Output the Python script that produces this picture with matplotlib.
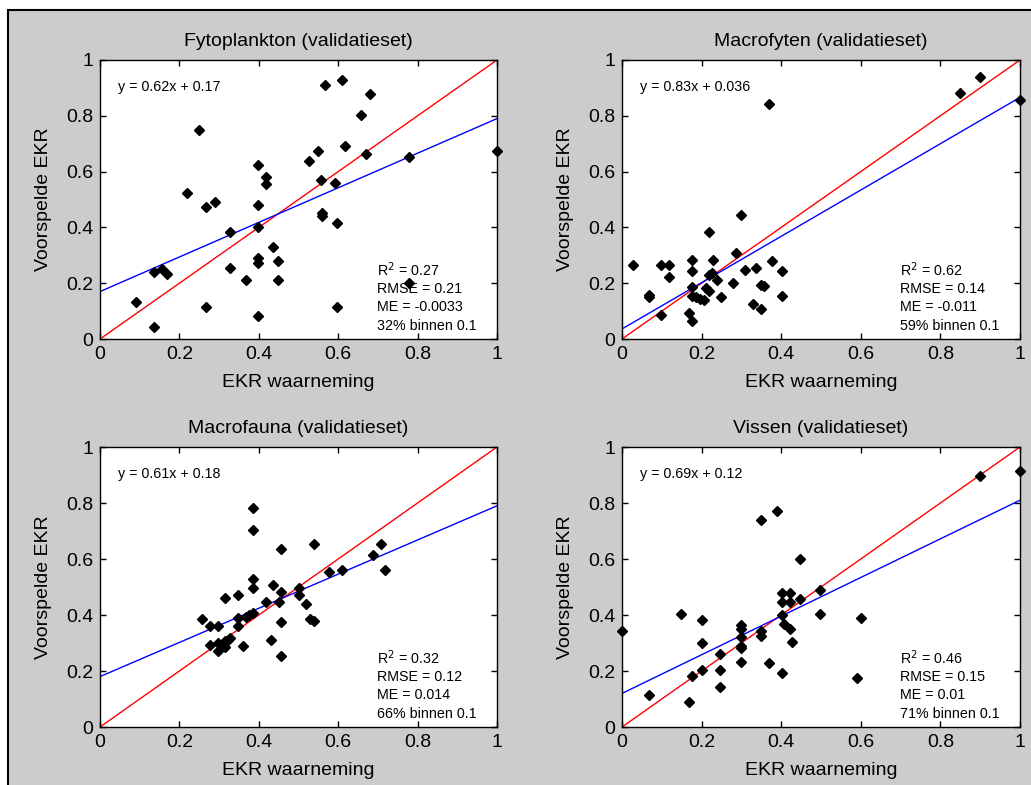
import numpy as np
import matplotlib.pyplot as plt
from matplotlib.patches import Rectangle

plt.rcParams['font.family'] = ['Liberation Sans', 'DejaVu Sans']

# Titels van de vier deelfiguren
titles = ['Fytoplankton (validatieset)', 'Macrofyten (validatieset)',
          'Macrofauna (validatieset)', 'Vissen (validatieset)']

# Waarnemingen (x) en voorspellingen (y)
fyto_x = [0.091, 0.137, 0.137, 0.156, 0.168, 0.218, 0.249, 0.268, 0.268, 0.289,
          0.328, 0.328, 0.367, 0.398, 0.398, 0.398, 0.398, 0.398, 0.398, 0.418,
          0.418, 0.436, 0.449, 0.449, 0.527, 0.548, 0.557, 0.560, 0.560, 0.567,
          0.591, 0.596, 0.596, 0.610, 0.617, 0.657, 0.669, 0.680, 0.779, 0.779, 1.0]
fyto_y = [0.132, 0.043, 0.239, 0.251, 0.233, 0.524, 0.748, 0.474, 0.115, 0.490,
          0.384, 0.255, 0.211, 0.625, 0.480, 0.400, 0.289, 0.273, 0.082, 0.580,
          0.556, 0.329, 0.278, 0.211, 0.637, 0.675, 0.570, 0.453, 0.440, 0.910,
          0.558, 0.417, 0.115, 0.928, 0.692, 0.803, 0.663, 0.877, 0.652, 0.199, 0.675]

macrofyt_x = [0.027, 0.067, 0.067, 0.098, 0.098, 0.118, 0.118, 0.176, 0.176, 0.176,
              0.176, 0.169, 0.176, 0.187, 0.197, 0.207, 0.210, 0.219, 0.219, 0.219,
              0.227, 0.228, 0.239, 0.248, 0.278, 0.287, 0.300, 0.310, 0.330, 0.337,
              0.349, 0.358, 0.349, 0.370, 0.377, 0.401, 0.401, 0.849, 0.900, 1.0]
macrofyt_y = [0.266, 0.159, 0.149, 0.266, 0.086, 0.266, 0.222, 0.284, 0.245, 0.185,
              0.155, 0.094, 0.065, 0.151, 0.145, 0.139, 0.182, 0.173, 0.385, 0.228,
              0.235, 0.284, 0.211, 0.151, 0.199, 0.307, 0.446, 0.249, 0.127, 0.255,
              0.195, 0.189, 0.106, 0.843, 0.278, 0.245, 0.155, 0.883, 0.939, 0.855]

fauna_x = [0.258, 0.278, 0.278, 0.296, 0.296, 0.296, 0.315, 0.315, 0.315, 0.322,
           0.328, 0.348, 0.348, 0.348, 0.359, 0.367, 0.376, 0.386, 0.386, 0.386,
           0.386, 0.386, 0.418, 0.430, 0.437, 0.450, 0.456, 0.456, 0.456, 0.456,
           0.500, 0.500, 0.520, 0.528, 0.540, 0.540, 0.577, 0.610, 0.688, 0.707, 0.719]
fauna_y = [0.384, 0.360, 0.294, 0.360, 0.271, 0.300, 0.462, 0.284, 0.308, 0.312,
           0.317, 0.472, 0.390, 0.360, 0.288, 0.394, 0.400, 0.406, 0.496, 0.529,
           0.703, 0.781, 0.445, 0.311, 0.506, 0.445, 0.483, 0.376, 0.254, 0.634,
           0.496, 0.472, 0.439, 0.384, 0.378, 0.652, 0.552, 0.562, 0.613, 0.652, 0.562]

vis_x = [0.0, 0.067, 0.148, 0.169, 0.175, 0.200, 0.200, 0.200, 0.247, 0.247,
         0.247, 0.298, 0.298, 0.298, 0.298, 0.298, 0.298, 0.350, 0.350, 0.350,
         0.369, 0.389, 0.401, 0.401, 0.401, 0.401, 0.407, 0.421, 0.421, 0.421,
         0.428, 0.448, 0.448, 0.498, 0.498, 0.590, 0.601, 0.900, 1.0]
vis_y = [0.344, 0.114, 0.405, 0.091, 0.181, 0.383, 0.299, 0.203, 0.259, 0.204,
         0.143, 0.363, 0.349, 0.321, 0.289, 0.281, 0.231, 0.741, 0.343, 0.326,
         0.227, 0.770, 0.478, 0.445, 0.400, 0.193, 0.367, 0.478, 0.445, 0.349,
         0.305, 0.456, 0.601, 0.489, 0.405, 0.175, 0.388, 0.898, 0.915]

obs_x = [fyto_x, macrofyt_x, fauna_x, vis_x]
obs_y = [fyto_y, macrofyt_y, fauna_y, vis_y]

# Regressielijnen en statistieken
slopes = [0.62, 0.83, 0.61, 0.69]
intercepts = [0.17, 0.036, 0.18, 0.12]
eq_labels = ['0.62x + 0.17', '0.83x + 0.036', '0.61x + 0.18', '0.69x + 0.12']
r2 = ['0.27', '0.62', '0.32', '0.46']
rmse = ['0.21', '0.14', '0.12', '0.15']
me = ['-0.0033', '-0.011', '0.014', '0.01']
binnen = ['32%', '59%', '66%', '71%']

ticks = [0, 0.2, 0.4, 0.6, 0.8, 1]
tick_labels = ['0', '0.2', '0.4', '0.6', '0.8', '1']

W, H = 1031, 785
fig = plt.figure(figsize=(W / 100, H / 100), dpi=100, facecolor='white')

# grijze achtergrond met zwarte rand links/boven
bg = Rectangle((8 / W, -0.02), 1.1, 1.02 - 10 / H, transform=fig.transFigure,
               facecolor='#cccccc', edgecolor='black', lw=1.5, zorder=-10)
fig.add_artist(bg)

# posities van de assen in pixels: (links, rechts, boven, onder)
boxes = [(100, 497, 60, 339), (622, 1020, 60, 339),
         (100, 497, 447, 727), (622, 1020, 447, 727)]

xl = np.array([0, 1])
for i, (l, r, t, b) in enumerate(boxes):
    ax = fig.add_axes([l / W, 1 - b / H, (r - l) / W, (b - t) / H])
    ax.set_facecolor('white')
    ax.plot(xl, xl, color='red', lw=1)
    ax.plot(xl, slopes[i] * xl + intercepts[i], color='blue', lw=1)
    ax.plot(obs_x[i], obs_y[i], linestyle='none', marker='D', color='black',
            markersize=5, clip_on=False, zorder=3)
    ax.set_xlim(0, 1)
    ax.set_ylim(0, 1)
    ax.set_xticks(ticks)
    ax.set_xticklabels(tick_labels)
    ax.set_yticks(ticks)
    ax.set_yticklabels(tick_labels)
    ax.tick_params(direction='in', top=True, right=True, length=4, width=1,
                   labelsize=14, pad=5)
    for s in ax.spines.values():
        s.set_linewidth(1)
    ax.set_title(titles[i], fontsize=14, pad=10)
    ax.set_xlabel('EKR waarneming', fontsize=14, labelpad=8)
    ax.set_ylabel('Voorspelde EKR', fontsize=14, labelpad=10)

    ax.text(0.046, 0.905, 'y = ' + eq_labels[i], fontsize=10.3, va='center')
    stats = ['R$^2$ = ' + r2[i], 'RMSE = ' + rmse[i], 'ME = ' + me[i],
             binnen[i] + ' binnen 0.1']
    for k, s in enumerate(stats):
        ax.text(0.698, 0.247 - k * 0.067, s, fontsize=10.3, va='center')

fig.savefig('out.png', dpi=100)
